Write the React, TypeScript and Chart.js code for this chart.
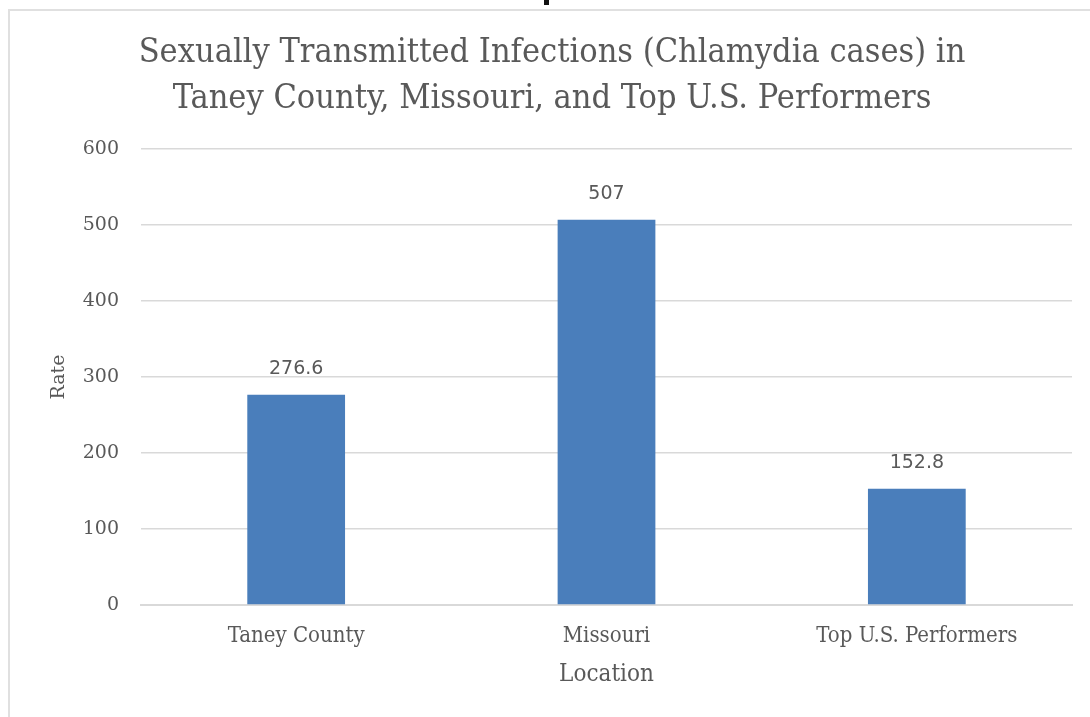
import React, { useEffect, useRef } from "react";
import { Chart, registerables } from "chart.js";

Chart.register(...registerables);

const categories = ["Taney County", "Missouri", "Top U.S. Performers"];
const rates = [276.6, 507, 152.8];
const valueLabels = ["276.6", "507", "152.8"];
const titleLines = [
  "Sexually Transmitted Infections (Chlamydia cases) in",
  "Taney County, Missouri, and Top U.S. Performers",
];

const TEXT = "#595959";
const CONDENSED = "'DejaVu Serif Condensed', 'Liberation Serif', serif";
const SERIF = "'DejaVu Serif', serif";

const valueLabelPlugin = {
  id: "valueLabels",
  afterDatasetsDraw(chart: any) {
    const ctx = chart.ctx;
    const meta = chart.getDatasetMeta(0);
    ctx.save();
    ctx.fillStyle = TEXT;
    ctx.font = `19px 'DejaVu Sans', sans-serif`;
    ctx.textAlign = "center";
    ctx.textBaseline = "middle";
    meta.data.forEach((bar: any, i: number) => {
      ctx.fillText(valueLabels[i], bar.x, bar.y - 26);
    });
    ctx.restore();
  },
};

export default function App() {
  const ref = useRef<HTMLCanvasElement>(null);
  useEffect(() => {
    if (!ref.current) return;
    const chart = new Chart(ref.current, {
      type: "bar",
      data: {
        labels: categories,
        datasets: [
          {
            data: rates,
            backgroundColor: "#4a7ebb",
            borderWidth: 0,
            barPercentage: 0.63,
            categoryPercentage: 0.5,
          },
        ],
      },
      options: {
        animation: false,
        responsive: false,
        devicePixelRatio: 1,
        layout: { padding: { left: 32, right: 18, top: 0, bottom: 0 } },
        plugins: {
          legend: { display: false },
          tooltip: { enabled: false },
          title: {
            display: true,
            text: titleLines,
            color: TEXT,
            font: { family: CONDENSED, size: 34, weight: "normal", lineHeight: 46 / 34 },
            padding: { top: 30, bottom: 27 },
          },
        },
        scales: {
          x: {
            grid: { display: false, drawTicks: false },
            border: { display: true, color: "#d9d9d9", width: 2 },
            ticks: {
              color: TEXT,
              font: { family: CONDENSED, size: 22 },
              padding: 18,
              maxRotation: 0,
            },
            title: {
              display: true,
              text: "Location",
              color: TEXT,
              font: { family: CONDENSED, size: 24 },
              padding: { top: 0, bottom: 28 },
            },
            afterFit(scale: any) {
              scale.height = 112;
            },
          },
          y: {
            min: 0,
            max: 600,
            ticks: {
              stepSize: 100,
              color: TEXT,
              font: { family: SERIF, size: 19 },
              padding: 22,
            },
            grid: { color: "#d9d9d9", lineWidth: 1.5, drawTicks: false },
            border: { display: false },
            title: {
              display: true,
              text: "Rate",
              color: TEXT,
              font: { family: SERIF, size: 19 },
              padding: { top: 16, bottom: 0 },
            },
            afterFit(scale: any) {
              scale.width = 109;
            },
          },
        },
      },
      plugins: [valueLabelPlugin],
    });
    return () => chart.destroy();
  }, []);

  return (
    <div
      style={{
        position: "fixed",
        left: 0,
        top: 0,
        width: 1090,
        height: 717,
        background: "#fff",
        overflow: "hidden",
      }}
    >
      <div style={{ position: "absolute", left: 8, top: 9, width: 1082, height: 2, background: "#e0e0e0" }} />
      <div style={{ position: "absolute", left: 8, top: 9, width: 2, height: 708, background: "#e0e0e0" }} />
      <div style={{ position: "absolute", left: 544, top: 0, width: 5, height: 5, background: "#111" }} />
      <canvas ref={ref} width={1090} height={717} style={{ position: "absolute", left: 0, top: 0 }} />
    </div>
  );
}
